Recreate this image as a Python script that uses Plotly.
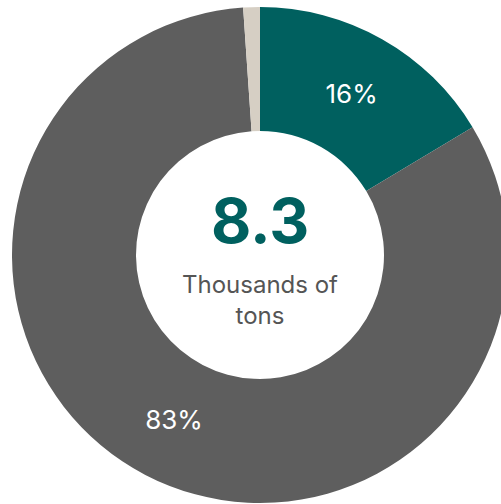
import plotly.graph_objects as go

labels = ["Category A", "Category B", "Category C"]
values = [1.36, 6.85, 0.09]  # thousands of tons
slice_text = ["16%", "83%", ""]
colors = ["#00605F", "#5E5E5E", "#D6CFC4"]
total_label = "8.3"
unit_label = "Thousands of<br>tons"

W, H = 520, 504
fig = go.Figure(go.Pie(
    labels=labels,
    values=values,
    text=slice_text,
    textinfo="text",
    textposition="inside",
    insidetextorientation="horizontal",
    textfont=dict(family="Inter", size=26, color="white"),
    marker=dict(colors=colors, line=dict(width=0)),
    hole=0.5,
    sort=False,
    direction="clockwise",
    rotation=0,
    showlegend=False,
    domain=dict(x=[12 / W, 508 / W], y=[1 - 503 / H, 1 - 7 / H]),
))

fig.add_annotation(x=0.5, y=1 - 220 / H, xref="paper", yref="paper",
                   text="<b>" + total_label + "</b>", showarrow=False,
                   font=dict(family="Inter", size=62, color="#00605F"))
fig.add_annotation(x=0.5, y=1 - 300 / H, xref="paper", yref="paper",
                   text=unit_label, showarrow=False,
                   font=dict(family="Inter", size=24, color="#555555"))

fig.update_layout(width=W, height=H, margin=dict(l=0, r=0, t=0, b=0),
                  paper_bgcolor="white", plot_bgcolor="white")

fig.write_html("out.html", post_script="document.documentElement.style.overflow='hidden';document.body.style.overflow='hidden';document.body.style.margin='0';")
